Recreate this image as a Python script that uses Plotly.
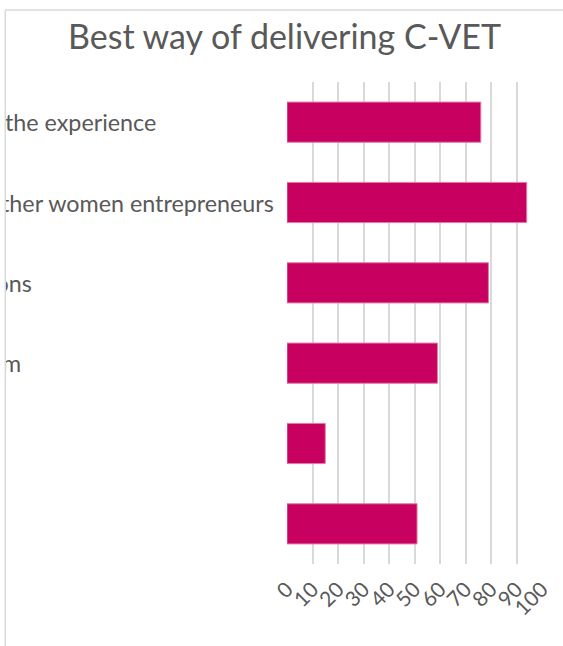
import plotly.graph_objects as go

# --- data -------------------------------------------------------------
title_text = "Best way of delivering C-VET"
row_labels = ["the experience", "other women entrepreneurs", "ons", "m", "", ""]
values = [76, 94, 79, 59, 15, 51]
tick_values = [0, 10, 20, 30, 40, 50, 60, 70, 80, 90, 100]
tick_labels = [str(v) for v in tick_values]

# --- geometry (pixels) ------------------------------------------------
W, H = 563, 646
ML, MR, MT, MB = 5, 21, 82, 82
PW = W - ML - MR
PH = H - MT - MB
AXIS_LEFT_PX = 287  # left edge of the value axis


def paper_x(px):
    return (px - ML) / PW


def paper_y(py):
    return (H - MB - py) / PH


FONT = "Lato"
TEXT_GREY = "#595959"
BAR = "#C8005F"
GRID = "#d9d9d9"

rows = list(range(len(values)))
label_offsets = [0.0, -17.0, -9.5, -3.0, 0, 0]
label_rows = [r + 0.04 for r in rows]

fig = go.Figure()

fig.add_trace(go.Bar(
    x=values, y=rows, orientation="h",
    marker=dict(color=BAR, line=dict(color="#e27aa9", width=1)),
    xaxis="x", yaxis="y", hoverinfo="x",
))

# row captions, clipped by the frame on the left
fig.add_trace(go.Scatter(
    x=label_offsets, y=label_rows, mode="text", text=row_labels,
    textposition="middle right",
    textfont=dict(family=FONT, size=23.3, color=TEXT_GREY),
    cliponaxis=True, xaxis="x2", yaxis="y2", hoverinfo="skip",
))

split = paper_x(AXIS_LEFT_PX)

fig.update_layout(
    width=W, height=H,
    margin=dict(l=ML, r=MR, t=MT, b=MB, pad=0, autoexpand=False),
    paper_bgcolor="white", plot_bgcolor="white",
    showlegend=False, bargap=0.5,
    title=dict(text=title_text, x=284.5 / W, xanchor="center",
               y=1 - 37 / H, yanchor="middle",
               font=dict(family=FONT, size=34, color=TEXT_GREY)),
    xaxis=dict(domain=[split, 1], range=[0, 100], tickvals=tick_values,
               ticktext=tick_labels, tickangle=-45, showgrid=True,
               gridcolor=GRID, gridwidth=1.5, zeroline=False, showline=False,
               ticks="", ticklabelstandoff=8, automargin=False,
               tickfont=dict(family=FONT, size=21, color=TEXT_GREY),
               fixedrange=True),
    yaxis=dict(range=[5.5, -0.5], showticklabels=False, showgrid=False,
               zeroline=False, showline=False, ticks="", automargin=False,
               fixedrange=True),
    xaxis2=dict(domain=[0, split - 0.01], range=[0, (split - 0.01) * PW],
                visible=False, automargin=False, fixedrange=True),
    yaxis2=dict(matches="y", anchor="x2", visible=False, automargin=False,
                fixedrange=True),
    shapes=[
        dict(type="line", xref="paper", yref="paper",
             x0=paper_x(5.3), x1=paper_x(5.3), y0=paper_y(H), y1=paper_y(10),
             line=dict(color=GRID, width=1.5), layer="above"),
        dict(type="line", xref="paper", yref="paper",
             x0=paper_x(5.3), x1=paper_x(W), y0=paper_y(10), y1=paper_y(10),
             line=dict(color=GRID, width=1.5), layer="above"),
    ],
)

fig.write_html("out.html")
